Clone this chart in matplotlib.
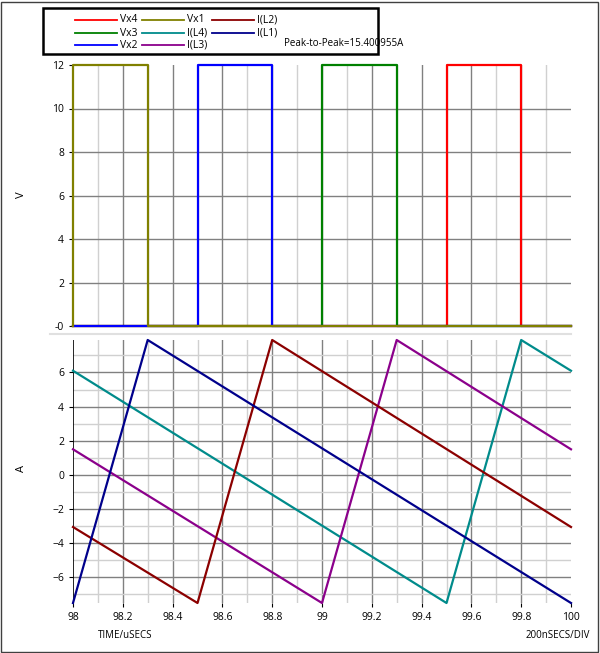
import matplotlib
matplotlib.use("Agg")
import matplotlib.pyplot as plt
from matplotlib.lines import Line2D
import numpy as np

# data
vx1_t = [98, 98, 98.3, 98.3, 100]; vx1_v = [0, 12, 12, 0, 0]
vx2_t = [98, 98.5, 98.5, 98.8, 98.8, 100]; vx2_v = [0, 0, 12, 12, 0, 0]
vx3_t = [98, 99, 99, 99.3, 99.3, 100]; vx3_v = [0, 0, 12, 12, 0, 0]
vx4_t = [98, 99.5, 99.5, 99.8, 99.8, 100]; vx4_v = [0, 0, 12, 12, 0, 0]
il1_t = [98, 98.3, 100]; il1_v = [-7.5, 7.9, -7.5]
il2_t = [98, 98.5, 98.8, 100]; il2_v = [-3.05, -7.5, 7.9, -3.05]
il3_t = [98, 99, 99.3, 100]; il3_v = [1.5, -7.5, 7.9, 1.5]
il4_t = [98, 99.5, 99.8, 100]; il4_v = [6.1, -7.5, 7.9, 6.1]
xticks = [98, 98.2, 98.4, 98.6, 98.8, 99, 99.2, 99.4, 99.6, 99.8, 100]
xlabels = ["98", "98.2", "98.4", "98.6", "98.8", "99", "99.2", "99.4", "99.6", "99.8", "100"]

plt.rcParams['font.family'] = ['Open Sans', 'DejaVu Sans']
fig = plt.figure(figsize=(6, 6.53), dpi=100)
W, H = 600, 653
def ax_at(x0, y0, x1, y1):
    return fig.add_axes([x0/W, 1-y1/H, (x1-x0)/W, (y1-y0)/H])

C = dict(Vx4='#ff0000', Vx3='#008000', Vx2='#0000ff', Vx1='#808000',
         L4='#008b8b', L3='#8b008b', L2='#8b0000', L1='#00008b')

def grid(ax, yt_major, yt_minor):
    ax.set_xlim(98, 100)
    for x in np.arange(98.1, 100, 0.2):
        ax.axvline(x, color='#d0d0d0', lw=1, zorder=0)
    for x in xticks[1:-1]:
        ax.axvline(x, color='#808080', lw=1, zorder=0)
    for y in yt_minor:
        ax.axhline(y, color='#d0d0d0', lw=1, zorder=0)
    for y in yt_major:
        ax.axhline(y, color='#808080', lw=1, zorder=0)
    for s in ax.spines.values():
        s.set_visible(False)
    ax.tick_params(labelsize=7.5, length=3, direction='out', colors='black')

ax1 = ax_at(73, 65, 571, 326)
grid(ax1, [2, 4, 6, 8, 10], [])
ax1.plot(vx4_t, vx4_v, color=C['Vx4'], lw=1.6, clip_on=False)
ax1.plot(vx3_t, vx3_v, color=C['Vx3'], lw=1.6, clip_on=False)
ax1.plot(vx2_t, vx2_v, color=C['Vx2'], lw=1.6, clip_on=False)
ax1.plot(vx1_t, vx1_v, color=C['Vx1'], lw=1.6, clip_on=False)
ax1.set_ylim(0, 12)
ax1.set_yticks([0, 2, 4, 6, 8, 10, 12], ['-0', '2', '4', '6', '8', '10', '12'])
ax1.set_xticks([])

ax2 = ax_at(73, 340, 571, 603)
grid(ax2, [-6, -4, -2, 0, 2, 4, 6], [-7, -5, -3, -1, 1, 3, 5, 7])
ax2.axvline(98, color='black', lw=1.2, zorder=1)
for t, v, c in [(il4_t, il4_v, 'L4'), (il3_t, il3_v, 'L3'), (il2_t, il2_v, 'L2'), (il1_t, il1_v, 'L1')]:
    ax2.plot(t, v, color=C[c], lw=1.6, clip_on=False)
ax2.set_ylim(-7.5, 7.9)
ax2.set_yticks([-6, -4, -2, 0, 2, 4, 6])
ax2.set_xticks(xticks, xlabels)

fig.text(22/W, 1-195/H, 'V', fontsize=8, va='center', ha='center', rotation=90)
fig.text(22/W, 1-468/H, 'A', fontsize=8, va='center', ha='center', rotation=90)

# separator
fig.add_artist(Line2D([50/W, 571/W], [1-334/H]*2, color='#e0e0e0', lw=1.5))
# outer border
fig.add_artist(plt.Rectangle((1/W, 1/H), 597/W, 650/H, fill=False, ec='#404040', lw=1, transform=fig.transFigure))

# legend box
fig.add_artist(plt.Rectangle((43/W, 1-54/H), 335/W, 46/H, fill=False, ec='black', lw=1.8, transform=fig.transFigure))
items = [('Vx4', C['Vx4'], 75, 20), ('Vx3', C['Vx3'], 75, 33), ('Vx2', C['Vx2'], 75, 45),
         ('Vx1', C['Vx1'], 142, 20), ('I(L4)', C['L4'], 142, 33), ('I(L3)', C['L3'], 142, 45),
         ('I(L2)', C['L2'], 212, 20), ('I(L1)', C['L1'], 212, 33)]
for name, col, x, y in items:
    fig.add_artist(Line2D([x/W, (x+42)/W], [1-y/H]*2, color=col, lw=1.3))
    fig.text((x+45)/W, 1-y/H, name, fontsize=7.5, va='center', ha='left')
fig.text(284/W, 1-43/H, 'Peak-to-Peak=15.400955A', fontsize=7, va='center')

fig.text(98/W, 1-635/H, 'TIME/uSECS', fontsize=7, va='center')
fig.text(590/W, 1-635/H, '200nSECS/DIV', fontsize=7, va='center', ha='right')

fig.savefig('out.png', dpi=100)
